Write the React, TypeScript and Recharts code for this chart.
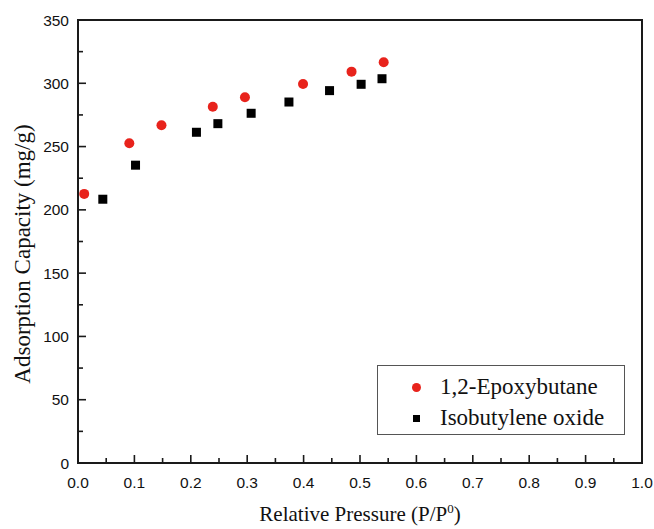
import React from 'react';
import { ScatterChart, Scatter, XAxis, YAxis, ReferenceArea } from 'recharts';

const epoxyX = [0.011, 0.091, 0.148, 0.239, 0.296, 0.399, 0.485, 0.542];
const epoxyY = [212.6, 252.6, 266.8, 281.5, 288.9, 299.4, 309.2, 316.6];
const isoX = [0.044, 0.102, 0.21, 0.248, 0.307, 0.374, 0.446, 0.502, 0.539];
const isoY = [208.4, 235.3, 261.3, 268.1, 276.3, 285.2, 294.2, 299.2, 303.6];

const xTicks = [0, 0.05, 0.1, 0.15, 0.2, 0.25, 0.3, 0.35, 0.4, 0.45, 0.5, 0.55, 0.6, 0.65, 0.7, 0.75, 0.8, 0.85, 0.9, 0.95, 1.0];
const yTicks = [0, 25, 50, 75, 100, 125, 150, 175, 200, 225, 250, 275, 300, 325, 350];

const seriesNames = ['1,2-Epoxybutane', 'Isobutylene oxide'];

const RED = '#e8231c';
const BLACK = '#000000';
const AXIS = '#1a1a1a';
const SANS = "'Liberation Sans', Arial, sans-serif";
const SERIF = "'Liberation Serif', 'Times New Roman', serif";

const epoxyData = epoxyX.map((x, i) => ({ x, y: epoxyY[i] }));
const isoData = isoX.map((x, i) => ({ x, y: isoY[i] }));

const YTick = (props: any) => {
  const { x, y, payload } = props;
  const v = payload.value;
  const major = Math.round(v) % 50 === 0;
  return (
    <g>
      <line x1={x} x2={x + (major ? 8 : 5)} y1={y} y2={y} stroke={AXIS} strokeWidth={1.6} />
      {major && (
        <text x={x - 9} y={y + 5.5} textAnchor="end" fontFamily={SANS} fontSize={15.5} fill="#111">
          {v}
        </text>
      )}
    </g>
  );
};

const XTick = (props: any) => {
  const { x, y, payload } = props;
  const v = payload.value;
  const major = Math.round(v * 100) % 10 === 0;
  return (
    <g>
      <line x1={x} x2={x} y1={y} y2={y - (major ? 8 : 5)} stroke={AXIS} strokeWidth={1.6} />
      {major && (
        <text x={x} y={y + 24.5} textAnchor="middle" fontFamily={SANS} fontSize={15.5} fill="#111">
          {v.toFixed(1)}
        </text>
      )}
    </g>
  );
};

const CircleShape = (p: any) => <circle cx={p.cx} cy={p.cy} r={5} fill={RED} />;
const SquareShape = (p: any) => <rect x={p.cx - 4.5} y={p.cy - 4.5} width={9} height={9} fill={BLACK} />;

const XLabel = (p: any) => {
  const vb = p.viewBox;
  const cx = vb.x + vb.width / 2;
  return (
    <text x={cx} y={521} textAnchor="middle" fontFamily={SERIF} fontSize={21} fill="#111">
      Relative Pressure (P/P
      <tspan fontSize={13} dy={-8}>0</tspan>
      <tspan dy={8}>)</tspan>
    </text>
  );
};

const YLabel = () => (
  <text
    x={0}
    y={0}
    transform="translate(29.5,254) rotate(-90)"
    textAnchor="middle"
    fontFamily={SERIF}
    fontSize={23}
    fill="#111"
  >
    Adsorption Capacity (mg/g)
  </text>
);

const LegendBox = () => (
  <div
    style={{
      position: 'absolute',
      left: 377,
      top: 365,
      width: 248,
      height: 70,
      border: '1px solid #555',
      boxSizing: 'border-box',
      background: '#fff',
      fontFamily: SERIF,
      fontSize: 23,
      color: '#111',
    }}
  >
    <div style={{ position: 'absolute', left: 34, top: 17, width: 9, height: 9, borderRadius: '50%', background: RED }} />
    <div style={{ position: 'absolute', left: 62, top: 7, lineHeight: '28px', whiteSpace: 'nowrap' }}>{seriesNames[0]}</div>
    <div style={{ position: 'absolute', left: 35, top: 49, width: 7, height: 7, background: BLACK }} />
    <div style={{ position: 'absolute', left: 62, top: 38, lineHeight: '28px', whiteSpace: 'nowrap' }}>{seriesNames[1]}</div>
  </div>
);

export default function App() {
  return (
    <div style={{ position: 'absolute', left: 0, top: 0, width: 654, height: 529, background: '#fff' }}>
      <ScatterChart width={654} height={529} margin={{ top: 20, right: 12, bottom: 26, left: 18 }}>
        <XAxis
          type="number"
          dataKey="x"
          domain={[0, 1]}
          ticks={xTicks}
          interval={0}
          tickSize={0}
          tickMargin={0}
          tickLine={false}
          tick={<XTick />}
          height={40}
          axisLine={{ stroke: AXIS, strokeWidth: 2 }}
          label={<XLabel />}
          allowDataOverflow
        />
        <YAxis
          type="number"
          dataKey="y"
          domain={[0, 350]}
          ticks={yTicks}
          interval={0}
          tickSize={0}
          tickMargin={0}
          tickLine={false}
          tick={<YTick />}
          width={60}
          axisLine={{ stroke: AXIS, strokeWidth: 2 }}
          label={<YLabel />}
          allowDataOverflow
        />
        <ReferenceArea x1={0} x2={1} y1={0} y2={350} fill="none" stroke={AXIS} strokeWidth={2} ifOverflow="visible" />
        <Scatter name={seriesNames[0]} data={epoxyData} shape={<CircleShape />} isAnimationActive={false} />
        <Scatter name={seriesNames[1]} data={isoData} shape={<SquareShape />} isAnimationActive={false} />
      </ScatterChart>
      <LegendBox />
    </div>
  );
}
